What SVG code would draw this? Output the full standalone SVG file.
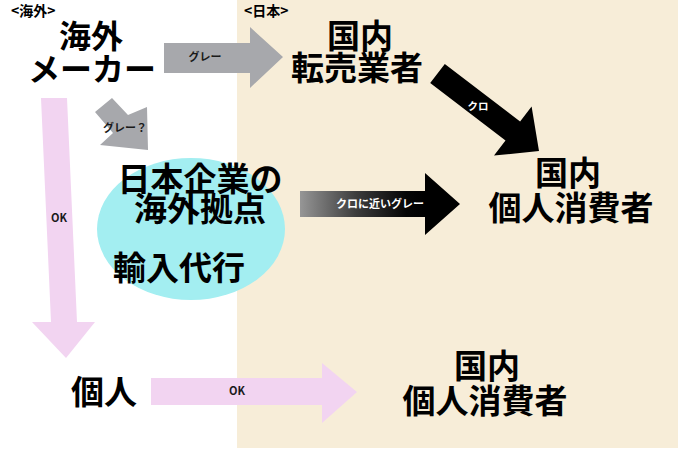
<svg xmlns="http://www.w3.org/2000/svg" width="680" height="455" viewBox="0 0 680 455">
<defs>
<style>
text{font-family:"Noto Sans CJK JP","Noto Sans",sans-serif;font-weight:bold}
.big{font-size:33px;fill:#000;text-anchor:middle}
.lbl{font-size:11px;fill:#1a1a1a;text-anchor:middle}
.wlbl{font-size:10.5px;fill:#fff;text-anchor:middle}
.hdr{font-size:14px;fill:#000}
.pink{fill:#F2D4F1}
.gray{fill:#A7A8AC}
</style>
<linearGradient id="g1" gradientUnits="userSpaceOnUse" x1="300" y1="0" x2="425" y2="0">
<stop offset="0" stop-color="#969696"/>
<stop offset="0.45" stop-color="#3c3c3c"/>
<stop offset="0.85" stop-color="#050505"/>
<stop offset="1" stop-color="#000"/>
</linearGradient>
</defs>
<rect width="680" height="455" fill="#fff"/>
<rect id="japan-area" x="237" y="0" width="441" height="448" fill="#F7EDD8"/>
<text class="hdr" x="11" y="16">&lt;海外&gt;</text>
<text class="hdr" x="244" y="16">&lt;日本&gt;</text>

<g id="connectors">
<polygon class="gray" points="164,43 250,43 250,27 283,57 250,88 250,73 164,73"/>
<text class="lbl" x="205" y="61">グレー</text>
<polygon class="gray" points="95,112 112,98 128,115 147,107 148,150 100,145 113,133"/>
<text class="lbl" x="125" y="132">グレー？</text>
<polygon class="pink" points="41,98 67,98 77,322 95,322 66,358 32,322 51,322"/>
<text class="lbl" x="59" y="222">OK</text>
<polygon fill="#000" points="444.8,64 520.1,121.5 531.6,106.4 539,151 494,155.6 505.5,140.5 430.2,83"/>
<text class="wlbl" x="478" y="110">クロ</text>
<polygon fill="url(#g1)" points="300,191 425,191 425,173 460,204 425,235 425,217 300,217"/>
<text class="wlbl" x="380" y="208" style="font-size:11px">クロに近いグレー</text>
<polygon class="pink" points="151,378 322,378 322,363 357,392 322,423 322,405 151,405"/>
<text class="lbl" x="237" y="395">OK</text>
</g>

<g id="overseas-maker">
<text class="big" x="91" y="48" style="font-size:32px">海外</text>
<text class="big" x="92" y="81" style="font-size:32px">メーカー</text>
</g>

<g id="overseas-base">
<ellipse cx="191" cy="229" rx="94" ry="71" fill="#A3EEF1"/>
<text class="big" x="200" y="191">日本企業の</text>
<text class="big" x="200" y="221">海外拠点</text>
<text class="big" x="179" y="280">輸入代行</text>
</g>

<g id="domestic-reseller">
<text class="big" x="360" y="48">国内</text>
<text class="big" x="357" y="80">転売業者</text>
</g>

<g id="domestic-consumer-1">
<text class="big" x="568" y="185">国内</text>
<text class="big" x="571" y="220">個人消費者</text>
</g>

<g id="individual">
<text class="big" x="104" y="404">個人</text>
</g>

<g id="domestic-consumer-2">
<text class="big" x="487" y="378">国内</text>
<text class="big" x="485" y="413">個人消費者</text>
</g>
</svg>
